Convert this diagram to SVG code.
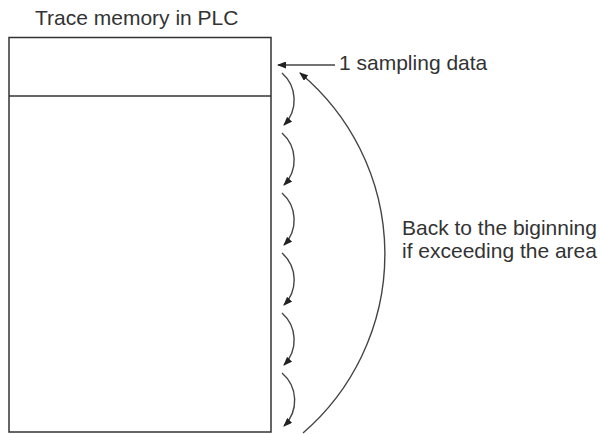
<svg xmlns="http://www.w3.org/2000/svg" width="601" height="434" viewBox="0 0 601 434">
<style>
text{font-family:"Liberation Sans",Arial,sans-serif;font-size:21px;fill:#333}
.ln{fill:none;stroke:#333;stroke-width:1.5}
.cv{fill:none;stroke:#444;stroke-width:1.4}
</style>
<defs>
<marker id="ah" markerWidth="9" markerHeight="7" refX="8" refY="3.5" orient="auto" markerUnits="userSpaceOnUse">
<path d="M0,0 L9,3.5 L0,7 z" fill="#222"/>
</marker>
</defs>
<rect width="601" height="434" fill="#fff"/>
<g id="title"><text x="35" y="25">Trace memory in PLC</text></g>
<g id="memory">
<rect class="ln" x="9" y="37.5" width="262" height="394.5"/>
<line class="ln" x1="9" y1="96" x2="271" y2="96"/>
</g>
<g id="sampling-label"><text x="339" y="70">1 sampling data</text></g>
<g id="back-label">
<text x="402" y="235">Back to the biginning</text>
<text x="402" y="258">if exceeding the area</text>
</g>
<g id="connectors">
<line class="cv" x1="335" y1="65" x2="278" y2="65" marker-end="url(#ah)"/>
<path class="cv" d="M282,73 A36,36 0 0 1 284,125" marker-end="url(#ah)"/>
<path class="cv" d="M282,133 A36,36 0 0 1 284,185" marker-end="url(#ah)"/>
<path class="cv" d="M282,193 A36,36 0 0 1 284,245" marker-end="url(#ah)"/>
<path class="cv" d="M282,253 A36,36 0 0 1 284,305" marker-end="url(#ah)"/>
<path class="cv" d="M282,313 A36,36 0 0 1 284,365" marker-end="url(#ah)"/>
<path class="cv" d="M282,373 A36,36 0 0 1 284,426" marker-end="url(#ah)"/>
<path class="cv" d="M303,433 A236,236 0 0 0 300,73" marker-end="url(#ah)"/>
</g>
</svg>
